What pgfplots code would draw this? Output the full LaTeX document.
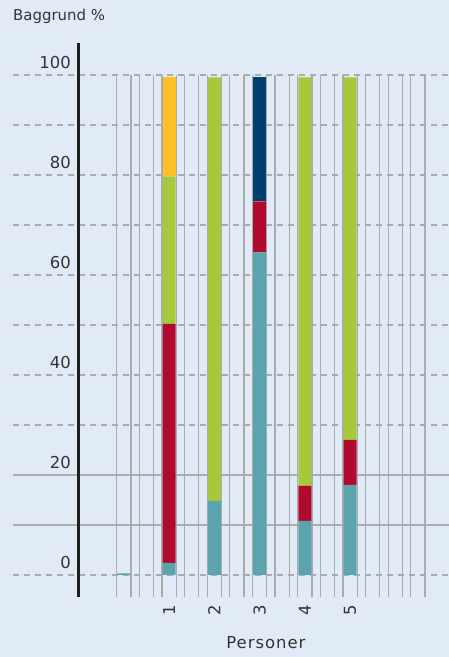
\documentclass[border=0pt]{standalone}
\usepackage{fontspec}
\setmainfont{DejaVu Sans}
\newfontfamily\spaced[LetterSpace=6]{DejaVu Sans}
\usepackage{pgfplots}
\pgfplotsset{compat=1.18}
\definecolor{bg}{HTML}{E1EBF7}
\definecolor{gridgray}{HTML}{ABABAB}
\definecolor{txt}{HTML}{333333}
\definecolor{axisblack}{HTML}{1E1E1E}
\definecolor{cteal}{HTML}{5BA3AD}
\definecolor{cred}{HTML}{B00A31}
\definecolor{cgreen}{HTML}{A5C93A}
\definecolor{cyellow}{HTML}{FDBF26}
\definecolor{cnavy}{HTML}{00406E}
\begin{document}
\begin{tikzpicture}[x=1bp,y=1bp]
\fill[bg] (0,0) rectangle (449,657);
\useasboundingbox (0,0) rectangle (449,657);
\node[anchor=base west, inner sep=0pt, font=\fontsize{15}{18}\selectfont, text=txt] at (13,636) {Baggrund \%};
\begin{axis}[
  at={(13bp,60bp)}, anchor=south west,
  scale only axis, width=436bp, height=522bp,
  xmin=-2.449, xmax=7.187, ymin=-4.4, ymax=100,
  clip=false,
  axis line style={draw=none},
  tick style={draw=none},
  ybar stacked, bar width=13bp,
  /pgf/number format/assume math mode=true,
  ticklabel style={font=\fontsize{16.5}{19}\selectfont, text=txt},
  xtick={1,2,3,4,5},
  xticklabel style={rotate=90, anchor=east, inner sep=0pt},
  xticklabel shift=8bp,
  ytick={0,10,20,30,40,50,60,70,80,90,100},
  yticklabels={0,,20,,40,,60,,80,,100},
  yticklabel style={anchor=east, inner sep=0pt, xshift=58bp, yshift=12bp},
  ymajorgrids=true,
  extra y ticks={10,20},
  extra y tick labels={},
  extra y tick style={grid=major, every axis y grid/.style={draw=gridgray, line width=1.3bp, solid}},
  extra x ticks={-0.158,0.158,0.342,0.658,0.842,1.158,1.342,1.658,1.842,2.158,2.342,2.658,2.842,3.158,3.342,3.658,3.842,4.158,4.342,4.658,4.842,5.158,5.342,5.658,5.842,6.158,6.342,6.658},
  extra x tick labels={},
  extra x tick style={grid=major},
  every axis y grid/.style={draw=gridgray, line width=1.3bp, dash pattern=on 6bp off 5bp},
  every axis x grid/.style={draw=gridgray, line width=1.2bp},
  xlabel={\spaced Personer},
  xlabel style={at={(axis cs:3.14,-4.4)}, anchor=base, yshift=-51bp, inner sep=0pt, font=\fontsize{16.5}{19}\selectfont, text=txt},
]
\addplot[fill=cteal, draw=none] coordinates {(0,0.3) (1,2.4) (2,14.8) (3,64.5) (4,10.8) (5,18)};
\addplot[fill=cred, draw=none] coordinates {(0,0) (1,47.8) (2,0) (3,10.2) (4,7) (5,9)};
\addplot[fill=cgreen, draw=none] coordinates {(0,0) (1,29.5) (2,84.7) (3,0) (4,81.7) (5,72.5)};
\addplot[fill=cyellow, draw=none] coordinates {(0,0) (1,19.8) (2,0) (3,0) (4,0) (5,0)};
\addplot[fill=cnavy, draw=none] coordinates {(0,0) (1,0) (2,0) (3,24.8) (4,0) (5,0)};
\draw[line width=2.5bp, axisblack] (axis cs:-1.005,106.4) -- (axis cs:-1.005,-4.4);
\end{axis}
\end{tikzpicture}
\end{document}
